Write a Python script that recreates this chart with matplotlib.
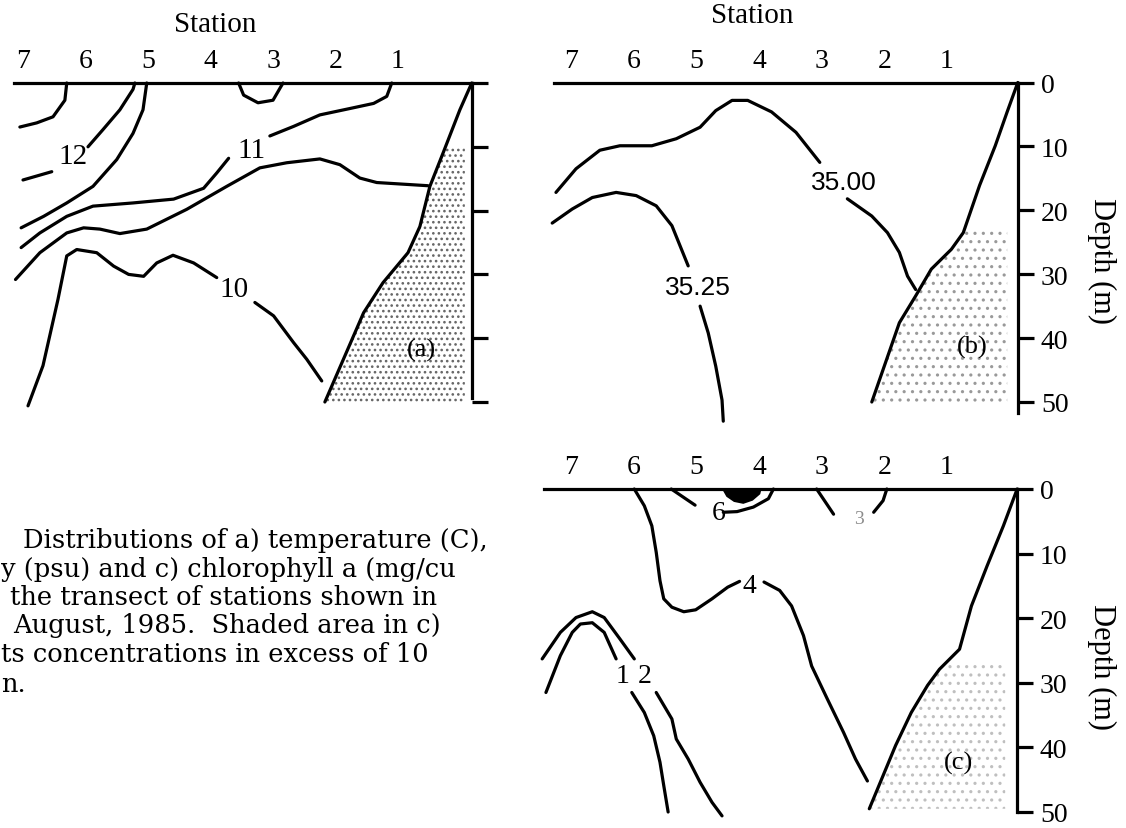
import matplotlib
matplotlib.use("Agg")
import matplotlib.pyplot as plt
import numpy as np

plt.rcParams['hatch.linewidth'] = 1.1

W, H = 1126, 829

# ---- station / depth axes ----
stations = [7, 6, 5, 4, 3, 2, 1]
depth_ticks = [0, 10, 20, 30, 40, 50]

# ---- (a) temperature (C) ----
a_12_top_s = [6.30, 6.33, 6.52, 6.78, 7.05]
a_12_top_d = [0, 2.7, 5.3, 6.25, 6.9]
a_12_left_s = [7.0, 6.54]
a_12_left_d = [15.2, 13.9]
a_12_right_s = [5.96, 5.72, 5.45, 5.24, 5.21]
a_12_right_d = [10.0, 7.3, 4.2, 1.0, 0]
a_mid_s = [5.02, 5.08, 5.24, 5.50, 5.88, 6.30, 6.67, 7.03]
a_mid_d = [0, 4.2, 7.9, 12.0, 16.2, 18.8, 20.9, 22.7]
a_11_left_s = [7.03, 6.73, 6.30, 5.88, 5.24, 4.59, 4.11, 3.90, 3.71]
a_11_left_d = [25.8, 23.5, 20.9, 19.3, 18.8, 18.2, 16.5, 14.1, 11.8]
a_11_right_s = [3.05, 2.67, 2.25, 1.77, 1.39, 1.18, 1.10]
a_11_right_d = [8.3, 6.8, 5.0, 4.0, 3.2, 2.1, 0]
a_low_s = [7.12, 6.73, 6.30, 6.03, 5.77, 5.45, 5.02, 4.38, 3.74, 3.21, 2.78,
           2.25, 1.93, 1.61, 1.34, 0.52]
a_low_d = [30.8, 26.6, 23.5, 22.7, 22.9, 23.6, 22.9, 19.8, 16.2, 13.3, 12.5,
           11.9, 12.8, 14.9, 15.6, 16.1]
a_10_left_s = [6.92, 6.68, 6.44, 6.30, 6.14, 5.82, 5.55, 5.31, 5.07, 4.86,
               4.60, 4.27, 3.90]
a_10_left_d = [50.6, 44.3, 33.9, 27.1, 26.1, 26.6, 28.7, 30.0, 30.3, 28.2,
               27.0, 28.2, 30.5]
a_10_right_s = [3.29, 2.99, 2.67, 2.46, 2.22]
a_10_right_d = [34.4, 36.5, 40.7, 43.3, 46.7]
a_cup_s = [3.55, 3.47, 3.24, 3.0, 2.84]
a_cup_d = [0, 1.9, 3.1, 2.7, 0]
a_coast_s = [-0.18, 0.01, 0.28, 0.49, 0.65, 0.84, 1.24, 1.55, 2.17]
a_coast_d = [0, 4.2, 11.0, 16.2, 22.5, 26.6, 31.3, 36.0, 50.0]
a_labels = ["12", "11", "10"]
a_label_s = [6.2, 3.34, 3.63]
a_label_d = [11.4, 10.5, 32.3]

# ---- (b) salinity (psu) ----
b_3500_left_s = [7.24, 6.92, 6.54, 6.22, 5.71, 5.32, 4.94, 4.69, 4.43, 4.18,
                 3.80, 3.41, 3.03]
b_3500_left_d = [17.2, 13.5, 10.6, 9.9, 9.9, 8.8, 7.0, 4.4, 2.8, 2.8, 4.6,
                 7.8, 12.5]
b_3500_right_s = [2.59, 2.20, 1.95, 1.76, 1.63, 1.50]
b_3500_right_d = [18.2, 20.9, 23.5, 26.6, 30.3, 32.4]
b_3525_left_s = [7.30, 6.98, 6.66, 6.28, 5.96, 5.64, 5.39, 5.13]
b_3525_left_d = [22.0, 19.8, 18.0, 17.2, 17.7, 19.3, 22.4, 28.7]
b_3525_right_s = [4.94, 4.81, 4.69, 4.59, 4.57]
b_3525_right_d = [35.0, 39.2, 44.4, 49.7, 53.0]
b_coast_s = [-0.13, 0.04, 0.23, 0.48, 0.74, 0.93, 1.25, 1.50, 1.76, 2.20]
b_coast_d = [0, 4.6, 9.9, 16.1, 23.5, 26.1, 29.2, 33.4, 37.6, 50.0]
b_labels = ["35.00", "35.25"]
b_label_s = [2.65, 4.97]
b_label_d = [15.6, 32.0]

# ---- (c) chlorophyll a ----
c_4_left_s = [5.99, 5.83, 5.71, 5.64, 5.58, 5.52, 5.39, 5.20, 5.01, 4.75,
              4.50, 4.31]
c_4_left_d = [0, 2.6, 5.7, 9.8, 14.2, 17.0, 18.3, 19.0, 18.7, 17.0, 15.2,
              14.3]
c_4_right_s = [3.92, 3.67, 3.48, 3.29, 3.16, 2.91, 2.65, 2.46, 2.27]
c_4_right_d = [14.4, 15.7, 18.1, 22.7, 27.4, 32.5, 37.7, 41.8, 45.2]
c_2_top_s = [7.46, 7.17, 6.92, 6.66, 6.47, 6.22, 5.99]
c_2_top_d = [26.3, 22.2, 19.9, 19.0, 19.9, 23.2, 26.3]
c_2_bot_s = [5.64, 5.39, 5.32, 5.13, 4.94, 4.75, 4.59]
c_2_bot_d = [31.5, 35.6, 38.7, 41.8, 45.4, 48.5, 50.6]
c_1_top_s = [7.40, 7.17, 6.98, 6.85, 6.66, 6.47, 6.28]
c_1_top_d = [31.5, 25.8, 22.2, 20.9, 20.7, 22.2, 26.3]
c_1_bot_s = [6.03, 5.83, 5.68, 5.58, 5.52, 5.45]
c_1_bot_d = [31.5, 34.6, 38.2, 42.3, 45.9, 50.0]
c_6_left_s = [5.40, 5.02]
c_6_left_d = [0, 2.5]
c_6_arc_s = [4.57, 4.35, 4.09, 3.85, 3.77]
c_6_arc_d = [3.6, 3.5, 2.8, 1.5, 0]
c_blob_s = [4.59, 4.52, 4.40, 4.25, 4.10, 3.98, 3.96]
c_blob_d = [0, 1.2, 2.0, 2.3, 1.8, 0.8, 0]
c_3_left_s = [3.08, 2.81]
c_3_left_d = [0, 3.9]
c_3_right_s = [1.96, 2.02, 2.17]
c_3_right_d = [0, 1.8, 3.6]
c_coast_s = [-0.12, 0.10, 0.36, 0.61, 0.80, 1.12, 1.31, 1.57, 1.82, 2.24]
c_coast_d = [0, 5.7, 11.9, 18.1, 24.8, 27.9, 30.4, 34.6, 39.7, 49.5]
c_labels = ["4", "1", "2", "6"]
c_label_s = [4.15, 6.18, 5.83, 4.64]
c_label_d = [15.0, 28.9, 28.9, 3.6]

caption_lines = [
    "Distributions of a) temperature (C),",
    "y (psu) and c) chlorophyll a (mg/cu",
    "the transect of stations shown in",
    "August, 1985.  Shaded area in c)",
    "ts concentrations in excess of 10",
    "n.",
]

SERIF = "Liberation Serif"
SANS = "Liberation Sans"
LW = 2.3

fig = plt.figure(figsize=(W / 100, H / 100), dpi=100)


def make_panel(box, x7, x1, y0, y50, axis_px, show_labels=True):
    """box = (left, right, top, bottom) in pixels; station / depth pixel anchors."""
    L, R, T, B = box
    ax = fig.add_axes([L / W, 1 - B / H, (R - L) / W, (B - T) / H])
    sp = (x1 - x7) / 6.0

    def s_of(px):
        return 1 - (px - x1) / sp

    def d_of(py):
        return (py - y0) * 50.0 / (y50 - y0)

    ax.set_xlim(s_of(L), s_of(R))
    ax.set_ylim(d_of(B), d_of(T))
    s_axis = s_of(axis_px)
    ax.patch.set_alpha(0)
    for side in ["left", "bottom"]:
        ax.spines[side].set_visible(False)
    ax.spines["top"].set_position(("data", 0))
    ax.spines["top"].set_bounds(s_axis, s_of(L + 14))
    ax.spines["right"].set_position(("data", s_axis))
    ax.spines["right"].set_bounds(0, d_of(B - 16))
    for side in ["top", "right"]:
        ax.spines[side].set_linewidth(LW)
    ax.xaxis.tick_top()
    ax.set_xticks(stations)
    ax.set_xticklabels([str(s) for s in stations], fontfamily=SERIF, fontsize=20)
    ax.tick_params(axis="x", length=0, pad=7)
    ax.yaxis.tick_right()
    ax.set_yticks(depth_ticks)
    ax.set_yticklabels([str(d) for d in depth_ticks], fontfamily=SERIF,
                       fontsize=20)
    ax.tick_params(axis="y", direction="out", length=11.5, width=LW, pad=5,
                   labelright=show_labels)
    return ax, s_axis


def line(ax, s, d):
    ax.plot(s, d, color="black", lw=LW, solid_capstyle="round",
            solid_joinstyle="round", clip_on=False)


def stipple(ax, coast_s, coast_d, d_top, s_right, color, hatch):
    dd = np.linspace(d_top, coast_d[-1], 60)
    cs = np.interp(dd, coast_d, coast_s)
    ax.fill_betweenx(dd, cs, s_right, facecolor="none", edgecolor=color,
                     hatch=hatch, linewidth=0)


# ---------------- panel (a) ----------------
ax_a, sa = make_panel((0, 495, 80, 415), 23, 398, 84, 403, 472,
                      show_labels=False)
stipple(ax_a, a_coast_s, a_coast_d, 10, -0.07, "0.4", "...")
for s, d in [(a_12_top_s, a_12_top_d), (a_12_left_s, a_12_left_d),
             (a_12_right_s, a_12_right_d), (a_mid_s, a_mid_d),
             (a_11_left_s, a_11_left_d), (a_11_right_s, a_11_right_d),
             (a_low_s, a_low_d), (a_10_left_s, a_10_left_d),
             (a_10_right_s, a_10_right_d), (a_cup_s, a_cup_d),
             (a_coast_s, a_coast_d)]:
    line(ax_a, s, d)
for t, s, d in zip(a_labels, a_label_s, a_label_d):
    ax_a.text(s, d, t, fontfamily=SERIF, fontsize=21, ha="center",
              va="center")
ax_a.text(0.62, 41.7, "(a)", fontfamily=SERIF, fontsize=19, ha="center",
          va="center")
ax_a.text(3.93, -9.3, "Station", fontfamily=SERIF, fontsize=21,
          ha="center", va="center", clip_on=False)

# ---------------- panel (b) ----------------
ax_b, sb = make_panel((540, 1040, 78, 430), 571, 947, 83.5, 403, 1018)
stipple(ax_b, b_coast_s, b_coast_d, 23, 0.04, "0.6", "..")
for s, d in [(b_3500_left_s, b_3500_left_d), (b_3500_right_s, b_3500_right_d),
             (b_3525_left_s, b_3525_left_d), (b_3525_right_s, b_3525_right_d),
             (b_coast_s, b_coast_d)]:
    line(ax_b, s, d)
for t, s, d in zip(b_labels, b_label_s, b_label_d):
    ax_b.text(s, d, t, fontfamily=SANS, fontsize=19, ha="center", va="center")
ax_b.text(0.59, 41.3, "(b)", fontfamily=SERIF, fontsize=19, ha="center",
          va="center")
ax_b.text(4.11, -10.6, "Station", fontfamily=SERIF, fontsize=21,
          ha="center", va="center", clip_on=False)
ax_b.text(-1.47, 27.7, "Depth (m)", fontfamily=SERIF, fontsize=22,
          rotation=270, ha="center", va="center", clip_on=False)

# ---------------- panel (c) ----------------
ax_c, sc = make_panel((530, 1040, 485, 829), 571, 947, 490, 813, 1017)
stipple(ax_c, c_coast_s, c_coast_d, 27, 0.07, "0.75", "..")
for s, d in [(c_4_left_s, c_4_left_d), (c_4_right_s, c_4_right_d),
             (c_2_top_s, c_2_top_d), (c_2_bot_s, c_2_bot_d),
             (c_1_top_s, c_1_top_d), (c_1_bot_s, c_1_bot_d),
             (c_6_left_s, c_6_left_d), (c_6_arc_s, c_6_arc_d),
             (c_3_left_s, c_3_left_d), (c_3_right_s, c_3_right_d),
             (c_coast_s, c_coast_d)]:
    line(ax_c, s, d)
ax_c.fill(c_blob_s, c_blob_d, color="black", lw=0)
for t, s, d in zip(c_labels, c_label_s, c_label_d):
    ax_c.text(s, d, t, fontfamily=SERIF, fontsize=20, ha="center",
              va="center")
ax_c.text(2.40, 4.6, "3", fontfamily=SERIF, fontsize=14, color="0.55",
          ha="center", va="center")
ax_c.text(0.81, 42.3, "(c)", fontfamily=SERIF, fontsize=19, ha="center",
          va="center")
ax_c.text(-1.47, 27.4, "Depth (m)", fontfamily=SERIF, fontsize=22,
          rotation=270, ha="center", va="center", clip_on=False)

# ---------------- caption (cut at left edge) ----------------
cap_x = [23, 1, 10, 13, 1, 1]
cap_y = [548, 577, 605, 633, 662, 692]
for t, x, y in zip(caption_lines, cap_x, cap_y):
    fig.text(x / W, 1 - y / H, t, fontfamily="DejaVu Serif", fontsize=18.5,
             va="baseline", ha="left")

fig.savefig("out.png", dpi=100)
